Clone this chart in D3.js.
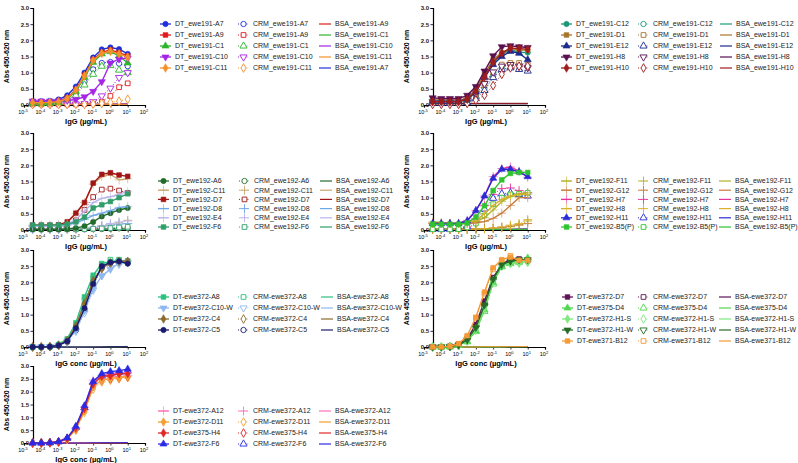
<!DOCTYPE html>
<html>
<head>
<meta charset="utf-8">
<script src="https://cdn.jsdelivr.net/npm/d3@7"></script>
<style>
  body { margin: 0; background: #fff; }
  svg { display: block; font-family: "Liberation Sans", Arial, sans-serif; }
</style>
</head>
<body>
<div id="vis"></div>
<script>
// half-log dilution series, ug/mL
var conc = [3.16e-5, 1e-4, 3.16e-4, 1e-3, 3.16e-3, 0.01, 0.0316, 0.1, 0.316, 1, 3.16, 10];
var xTicks = [-5, -4, -3, -2, -1, 0, 1, 2];
var yTicks = [0, 0.5, 1, 1.5, 2, 2.5, 3];

// ---- panel 1 : ewe191 ----
var p1Clones = ["ewe191-A7", "ewe191-A9", "ewe191-C1", "ewe191-C10", "ewe191-C11"];
var p1BsaOrder = ["ewe191-A9", "ewe191-C1", "ewe191-C10", "ewe191-C11", "ewe191-A7"];
var p1DT = [
  [0.12,0.12,0.13,0.17,0.30,0.57,1.00,1.47,1.72,1.78,1.73,1.58],
  [0.08,0.08,0.09,0.11,0.22,0.48,0.92,1.40,1.63,1.70,1.62,1.52],
  [0.05,0.05,0.06,0.08,0.18,0.42,0.85,1.32,1.58,1.65,1.52,1.30],
  [0.12,0.12,0.12,0.13,0.14,0.17,0.25,0.42,0.72,1.30,1.42,1.45],
  [0.07,0.07,0.08,0.10,0.20,0.46,0.90,1.38,1.60,1.66,1.58,1.48]
];
var p1CRM = [
  [0.04,0.04,0.05,0.07,0.13,0.35,0.72,1.10,1.30,1.33,1.28,1.20],
  [0.02,0.02,0.02,0.02,0.02,0.02,0.03,0.05,0.10,0.28,0.55,0.67],
  [0.04,0.04,0.05,0.06,0.14,0.30,0.62,0.95,1.20,1.22,1.08,1.00],
  [0.02,0.02,0.02,0.02,0.02,0.03,0.04,0.10,0.28,0.52,0.85,1.00],
  [0.02,0.02,0.02,0.02,0.02,0.02,0.02,0.03,0.05,0.08,0.12,0.18]
];
var p1BSA = [
  [0.02,0.02,0.02,0.02,0.02,0.02,0.02,0.02,0.02,0.02,0.02,0.03],
  [0.02,0.02,0.02,0.02,0.02,0.02,0.02,0.02,0.02,0.02,0.03,0.03],
  [0.02,0.02,0.02,0.02,0.02,0.02,0.02,0.02,0.02,0.02,0.02,0.02],
  [0.02,0.02,0.02,0.02,0.02,0.02,0.02,0.02,0.02,0.03,0.03,0.03],
  [0.02,0.02,0.02,0.02,0.02,0.02,0.02,0.02,0.02,0.02,0.02,0.02]
];
var p1Colors = ["#1f30d8", "#e01b1b", "#2cb52c", "#a424e8", "#f5902a"];
var p1Shapes = ["circle", "square", "triangle", "triangleDown", "diamond"];

// ---- panel 2 : ewe191 ----
var p2Clones = ["ewe191-C12", "ewe191-D1", "ewe191-E12", "ewe191-H8", "ewe191-H10"];
var p2DT = [
  [0.10,0.10,0.10,0.10,0.15,0.42,0.88,1.30,1.56,1.72,1.63,1.62],
  [0.15,0.15,0.15,0.15,0.20,0.50,0.95,1.40,1.62,1.75,1.70,1.70],
  [0.12,0.12,0.12,0.12,0.18,0.40,0.85,1.25,1.50,1.66,1.60,1.40],
  [0.22,0.20,0.20,0.20,0.30,0.57,1.05,1.52,1.80,1.83,1.80,1.78],
  [0.10,0.10,0.10,0.10,0.18,0.42,0.86,1.32,1.60,1.76,1.75,1.72]
];
var p2CRM = [
  [0.05,0.05,0.05,0.05,0.10,0.25,0.52,0.90,1.15,1.25,1.22,1.20],
  [0.10,0.10,0.10,0.10,0.12,0.30,0.62,1.00,1.25,1.30,1.30,1.25],
  [0.05,0.05,0.05,0.05,0.08,0.20,0.45,0.85,1.10,1.15,1.10,1.05],
  [0.10,0.10,0.10,0.10,0.15,0.35,0.66,1.02,1.20,1.25,1.20,1.15],
  [0.02,0.02,0.02,0.02,0.05,0.15,0.30,0.60,0.95,1.15,1.20,1.20]
];
var p2BSA = [
  [0.04,0.04,0.04,0.04,0.04,0.04,0.04,0.04,0.04,0.04,0.04,0.04],
  [0.05,0.05,0.05,0.05,0.05,0.05,0.05,0.05,0.05,0.05,0.05,0.05],
  [0.04,0.04,0.04,0.04,0.04,0.04,0.04,0.04,0.04,0.04,0.04,0.04],
  [0.05,0.05,0.05,0.05,0.05,0.05,0.05,0.05,0.05,0.05,0.05,0.05],
  [0.04,0.04,0.04,0.04,0.04,0.04,0.04,0.04,0.04,0.04,0.04,0.04]
];
var p2Colors = ["#1a9a78", "#a8742a", "#1c2a8c", "#5a0f4f", "#a01c1c"];
var p2Shapes = ["circle", "square", "triangle", "triangleDown", "diamond"];

// ---- panel 3 : ewe192 ----
var p3Clones = ["ewe192-A6", "ewe192-C11", "ewe192-D7", "ewe192-D8", "ewe192-E4", "ewe192-F6"];
var p3DT = [
  [0.02,0.02,0.02,0.02,0.03,0.06,0.12,0.25,0.42,0.52,0.62,0.68],
  [0.15,0.15,0.15,0.16,0.22,0.50,0.85,1.42,1.65,1.72,1.55,1.58],
  [0.15,0.15,0.15,0.16,0.25,0.52,0.85,1.45,1.72,1.77,1.70,1.66],
  [0.12,0.12,0.12,0.12,0.15,0.22,0.32,0.45,0.52,0.60,0.70,0.72],
  [0.12,0.12,0.12,0.13,0.18,0.32,0.58,0.85,0.98,1.03,1.10,1.20],
  [0.15,0.15,0.15,0.15,0.18,0.25,0.40,0.68,0.78,0.88,1.00,1.12]
];
var p3CRM = [
  [0.02,0.02,0.02,0.02,0.02,0.02,0.02,0.03,0.03,0.04,0.05,0.06],
  [0.02,0.02,0.02,0.02,0.02,0.03,0.04,0.06,0.10,0.15,0.22,0.30],
  [0.05,0.05,0.05,0.06,0.12,0.30,0.62,1.02,1.25,1.28,1.22,1.15],
  [0.02,0.02,0.02,0.02,0.03,0.04,0.05,0.08,0.12,0.15,0.18,0.20],
  [0.02,0.02,0.02,0.02,0.02,0.03,0.05,0.08,0.14,0.20,0.25,0.28],
  [0.02,0.02,0.02,0.02,0.02,0.02,0.03,0.04,0.05,0.06,0.08,0.10]
];
var p3BSA = [
  [0.02,0.02,0.02,0.02,0.02,0.02,0.02,0.02,0.02,0.02,0.02,0.02],
  [0.02,0.02,0.02,0.02,0.02,0.02,0.02,0.02,0.02,0.02,0.02,0.03],
  [0.02,0.02,0.02,0.02,0.02,0.02,0.02,0.02,0.02,0.02,0.03,0.03],
  [0.02,0.02,0.02,0.02,0.02,0.02,0.02,0.02,0.02,0.02,0.02,0.02],
  [0.02,0.02,0.02,0.02,0.02,0.02,0.02,0.02,0.02,0.02,0.02,0.02],
  [0.02,0.02,0.02,0.02,0.02,0.02,0.02,0.02,0.02,0.02,0.02,0.02]
];
var p3Colors = ["#236b2a", "#c9a66b", "#a31515", "#6fa8e8", "#b9b4ec", "#2f9e6a"];
var p3Shapes = ["circle", "plus", "square", "plus", "plus", "square"];

// ---- panel 4 : ewe192 ----
var p4Clones = ["ewe192-F11", "ewe192-G12", "ewe192-H7", "ewe192-H8", "ewe192-H11", "ewe192-B5(P)"];
var p4DT = [
  [0.25,0.23,0.21,0.20,0.20,0.26,0.38,0.62,0.88,1.04,1.12,1.15],
  [0.22,0.21,0.20,0.20,0.20,0.22,0.26,0.36,0.52,0.76,1.00,1.00],
  [0.20,0.20,0.20,0.21,0.30,0.60,1.05,1.65,1.90,1.95,1.82,1.63],
  [0.20,0.20,0.20,0.20,0.22,0.30,0.50,0.76,0.95,1.05,1.10,1.10],
  [0.20,0.20,0.20,0.20,0.28,0.60,1.05,1.60,1.88,1.88,1.80,1.65],
  [0.18,0.18,0.18,0.18,0.22,0.40,0.75,1.22,1.55,1.75,1.78,1.78]
];
var p4CRM = [
  [0.02,0.02,0.02,0.02,0.02,0.03,0.04,0.05,0.07,0.10,0.15,0.28],
  [0.02,0.02,0.02,0.02,0.02,0.03,0.04,0.06,0.08,0.12,0.16,0.20],
  [0.02,0.02,0.02,0.03,0.10,0.35,0.75,1.10,1.28,1.30,1.22,1.15],
  [0.02,0.02,0.02,0.02,0.02,0.03,0.04,0.06,0.10,0.15,0.20,0.32],
  [0.02,0.02,0.02,0.03,0.10,0.30,0.65,0.98,1.12,1.15,1.10,1.05],
  [0.02,0.02,0.02,0.03,0.08,0.20,0.45,0.80,1.00,1.10,1.12,1.15]
];
var p4BSA = [
  [0.02,0.02,0.02,0.02,0.02,0.02,0.02,0.02,0.02,0.02,0.02,0.02],
  [0.02,0.02,0.02,0.02,0.02,0.02,0.02,0.02,0.02,0.02,0.02,0.02],
  [0.02,0.02,0.02,0.02,0.02,0.02,0.02,0.02,0.02,0.02,0.02,0.03],
  [0.02,0.02,0.02,0.02,0.02,0.02,0.02,0.02,0.02,0.02,0.02,0.02],
  [0.02,0.02,0.02,0.02,0.02,0.02,0.02,0.02,0.02,0.02,0.03,0.03],
  [0.02,0.02,0.02,0.02,0.02,0.02,0.02,0.02,0.02,0.02,0.02,0.02]
];
var p4Colors = ["#b5b02a", "#c87a3a", "#e8339b", "#d9b02a", "#2a2ad6", "#2fc42f"];
var p4Shapes = ["plus", "plus", "plus", "plus", "triangle", "square"];

// ---- panel 5 : ewe372 ----
var p5Clones = ["ewe372-A8", "ewe372-C10-W", "ewe372-C4", "ewe372-C5"];
var p5DT = [
  [0.00,0.00,0.01,0.08,0.25,0.75,1.55,2.22,2.58,2.65,2.68,2.65],
  [0.00,0.00,0.01,0.05,0.18,0.52,1.12,1.80,2.20,2.40,2.60,2.62],
  [0.00,0.00,0.01,0.06,0.20,0.65,1.35,2.05,2.45,2.60,2.65,2.65],
  [0.00,0.00,0.01,0.05,0.18,0.58,1.20,1.95,2.50,2.62,2.65,2.58]
];
var p5CRM = [
  [0.00,0.00,0.01,0.05,0.20,0.65,1.45,2.12,2.55,2.70,2.70,2.66],
  [0.00,0.00,0.01,0.04,0.15,0.48,1.05,1.75,2.20,2.45,2.55,2.60],
  [0.00,0.00,0.01,0.05,0.18,0.60,1.30,2.00,2.42,2.58,2.62,2.62],
  [0.00,0.00,0.01,0.04,0.16,0.52,1.15,1.90,2.45,2.60,2.62,2.60]
];
var p5BSA = [
  [0.00,0.00,0.00,0.00,0.00,0.00,0.01,0.01,0.01,0.01,0.01,0.02],
  [0.00,0.00,0.00,0.00,0.00,0.00,0.00,0.01,0.01,0.01,0.01,0.01],
  [0.00,0.00,0.00,0.00,0.00,0.00,0.00,0.00,0.01,0.01,0.01,0.01],
  [0.00,0.00,0.00,0.00,0.00,0.00,0.00,0.00,0.00,0.01,0.01,0.01]
];
var p5Colors = ["#2dbf7e", "#8fb8f0", "#8c6a2c", "#1b1b70"];
var p5Shapes = ["square", "triangleDown", "diamond", "circle"];

// ---- panel 6 : ewe372 / ewe375 / ewe371 ----
var p6Clones = ["ewe372-D7", "ewe375-D4", "ewe372-H1-S", "ewe372-H1-W", "ewe371-B12"];
var p6DT = [
  [0.00,0.00,0.02,0.08,0.25,0.70,1.42,2.15,2.55,2.72,2.70,2.70],
  [0.00,0.00,0.01,0.05,0.18,0.50,1.15,2.00,2.50,2.60,2.65,2.75],
  [0.00,0.00,0.01,0.05,0.20,0.55,1.20,2.05,2.55,2.60,2.60,2.65],
  [0.00,0.00,0.01,0.06,0.22,0.60,1.30,2.10,2.55,2.65,2.70,2.70],
  [0.00,0.00,0.02,0.10,0.35,0.92,1.70,2.45,2.70,2.78,2.68,2.68]
];
var p6CRM = [
  [0.00,0.00,0.02,0.07,0.24,0.68,1.40,2.12,2.55,2.70,2.72,2.68],
  [0.00,0.00,0.01,0.05,0.16,0.48,1.10,1.95,2.48,2.58,2.62,2.70],
  [0.00,0.00,0.01,0.05,0.18,0.52,1.15,2.00,2.50,2.58,2.60,2.62],
  [0.00,0.00,0.01,0.06,0.20,0.58,1.25,2.05,2.52,2.62,2.66,2.66],
  [0.00,0.00,0.02,0.10,0.32,0.90,1.65,2.40,2.68,2.82,2.66,2.66]
];
var p6BSA = [
  [0.00,0.00,0.00,0.00,0.00,0.00,0.00,0.01,0.01,0.01,0.01,0.01],
  [0.00,0.00,0.00,0.00,0.00,0.00,0.00,0.00,0.01,0.01,0.01,0.01],
  [0.00,0.00,0.00,0.00,0.00,0.00,0.00,0.00,0.00,0.01,0.01,0.01],
  [0.00,0.00,0.00,0.00,0.00,0.00,0.00,0.00,0.01,0.01,0.01,0.01],
  [0.00,0.00,0.00,0.00,0.00,0.00,0.01,0.01,0.01,0.01,0.01,0.02]
];
var p6Colors = ["#5e1355", "#4fd84f", "#7ee87e", "#256b25", "#f59a35"];
var p6Shapes = ["square", "triangle", "diamond", "triangleDown", "square"];

// ---- panel 7 : ewe372 / ewe375 ----
var p7Clones = ["ewe372-A12", "ewe372-D11", "ewe375-H4", "ewe372-F6"];
var p7DT = [
  [0.00,0.00,0.01,0.05,0.18,0.60,1.40,2.45,2.62,2.70,2.72,2.75],
  [0.00,0.00,0.01,0.05,0.15,0.55,1.25,2.20,2.45,2.52,2.55,2.60],
  [0.00,0.00,0.01,0.05,0.18,0.60,1.35,2.30,2.60,2.62,2.70,2.70],
  [0.00,0.00,0.01,0.05,0.20,0.65,1.45,2.40,2.70,2.78,2.82,2.88]
];
var p7CRM = [
  [0.00,0.00,0.01,0.04,0.15,0.55,1.30,2.30,2.50,2.58,2.60,2.62],
  [0.00,0.00,0.01,0.04,0.14,0.50,1.20,2.10,2.38,2.45,2.50,2.55],
  [0.00,0.00,0.01,0.04,0.16,0.55,1.28,2.20,2.45,2.50,2.55,2.58],
  [0.00,0.00,0.01,0.05,0.18,0.60,1.38,2.35,2.62,2.70,2.75,2.80]
];
var p7BSA = [
  [0.00,0.00,0.00,0.00,0.00,0.00,0.00,0.01,0.01,0.01,0.01,0.01],
  [0.00,0.00,0.00,0.00,0.00,0.00,0.00,0.00,0.01,0.01,0.01,0.01],
  [0.00,0.00,0.00,0.00,0.00,0.00,0.00,0.00,0.00,0.01,0.01,0.01],
  [0.00,0.00,0.00,0.00,0.00,0.00,0.00,0.01,0.01,0.01,0.01,0.02]
];
var p7Colors = ["#ff70b8", "#f5a030", "#e02828", "#2a2ae6"];
var p7Shapes = ["plus", "diamond", "diamond", "triangle"];


var width = 798, height = 463;

var svg = d3.select("#vis")
  .append("svg")
    .attr("width", width)
    .attr("height", height);

var symbolTypes = {
  circle: d3.symbolCircle,
  square: d3.symbolSquare,
  triangle: d3.symbolTriangle,
  triangleDown: d3.symbolTriangle,
  diamond: d3.symbolDiamond,
  plus: d3.symbolPlus || d3.symbolCross
};

function marker(sel, shape, color, open) {
  var sym = d3.symbol().type(symbolTypes[shape]).size(shape == "plus" ? 28 : 22);
  var p = sel.append("path")
    .attr("d", sym())
    .attr("stroke", color)
    .attr("stroke-width", open ? 0.9 : 0.6)
    .attr("fill", shape == "plus" ? "none" : (open ? "#fff" : color));
  if (shape == "triangleDown") p.attr("transform", "rotate(180)");
  return p;
}

function drawPanel(cfg) {
  var g = svg.append("g");

  var x = d3.scaleLog()
    .domain([1e-5, 1e2])
    .range([cfg.x0 + 24, cfg.x0 + 145]);
  var y = d3.scaleLinear()
    .domain([0, 3])
    .range([cfg.bottom, cfg.top]);
  var axisX = cfg.x0 + 33;

  // x axis
  var xAxis = d3.axisBottom(x)
    .tickValues(xTicks.map(function(e) { return Math.pow(10, e); }))
    .tickSize(2.5)
    .tickFormat("");
  var gx = g.append("g")
    .attr("transform", "translate(0," + cfg.bottom + ")")
    .call(xAxis);
  gx.select(".domain").attr("stroke-width", 1.2);
  gx.selectAll(".tick line").attr("stroke-width", 0.8);
  xTicks.forEach(function(e) {
    var t = g.append("text")
      .attr("x", x(Math.pow(10, e)) - 1)
      .attr("y", cfg.bottom + 9)
      .attr("text-anchor", "middle")
      .style("font-size", "5.5px")
      .text("10");
    t.append("tspan")
      .attr("dy", -2.5)
      .style("font-size", "4px")
      .text(e);
  });

  // y axis
  var yAxis = d3.axisLeft(y)
    .tickValues(yTicks)
    .tickSize(2.5)
    .tickFormat(d3.format(".1f"));
  var gy = g.append("g")
    .attr("transform", "translate(" + axisX + ",0)")
    .call(yAxis);
  gy.select(".domain").attr("stroke-width", 1.2);
  gy.selectAll(".tick line").attr("stroke-width", 0.8);
  gy.selectAll("text")
    .attr("x", -4)
    .style("font-size", "6px")
    .style("font-weight", "bold")
    .attr("fill", "#222");

  // titles
  g.append("text")
    .attr("transform", "translate(" + (cfg.x0 + 9) + "," + ((cfg.top + cfg.bottom) / 2) + ") rotate(-90)")
    .attr("text-anchor", "middle")
    .style("font-size", "7px")
    .style("font-weight", "bold")
    .text("Abs 450-620 nm");
  g.append("text")
    .attr("x", cfg.x0 + 86)
    .attr("y", cfg.bottom + 19)
    .attr("text-anchor", "middle")
    .style("font-size", "7.5px")
    .style("font-weight", "bold")
    .text(cfg.xTitle);

  var line = d3.line()
    .x(function(d, i) { return x(conc[i]); })
    .y(function(d) { return y(d); });

  // BSA first (underneath), then CRM, then DT
  cfg.bsa.forEach(function(vals, k) {
    g.append("path")
      .datum(vals)
      .attr("fill", "none")
      .attr("stroke", cfg.colors[k])
      .attr("stroke-width", 1)
      .attr("d", line);
  });

  cfg.crm.forEach(function(vals, k) {
    g.append("path")
      .datum(vals)
      .attr("fill", "none")
      .attr("stroke", cfg.colors[k])
      .attr("stroke-width", 1)
      .attr("stroke-dasharray", "1,1.8")
      .attr("d", line);
    vals.forEach(function(v, i) {
      var m = g.append("g").attr("transform", "translate(" + x(conc[i]) + "," + y(v) + ")");
      marker(m, cfg.shapes[k], cfg.colors[k], true);
    });
  });

  cfg.dt.forEach(function(vals, k) {
    g.append("path")
      .datum(vals)
      .attr("fill", "none")
      .attr("stroke", cfg.colors[k])
      .attr("stroke-width", 1.4)
      .attr("d", line);
    vals.forEach(function(v, i) {
      var m = g.append("g").attr("transform", "translate(" + x(conc[i]) + "," + y(v) + ")");
      marker(m, cfg.shapes[k], cfg.colors[k], false);
    });
  });

  // legend
  var lg = g.append("g").style("font-size", "7px").attr("fill", "#222");
  cfg.clones.forEach(function(name, k) {
    var ly = cfg.legTop + k * cfg.legStep;
    var c = cfg.colors[k];

    // DT
    lg.append("line")
      .attr("x1", cfg.x0 + cfg.legX[0] - 15).attr("x2", cfg.x0 + cfg.legX[0] - 4)
      .attr("y1", ly).attr("y2", ly)
      .attr("stroke", c).attr("stroke-width", 1.3);
    marker(lg.append("g").attr("transform", "translate(" + (cfg.x0 + cfg.legX[0] - 9.5) + "," + ly + ")"), cfg.shapes[k], c, false);
    lg.append("text")
      .attr("x", cfg.x0 + cfg.legX[0]).attr("y", ly).attr("dy", "0.35em")
      .text("DT" + cfg.sep + name);

    // CRM
    lg.append("line")
      .attr("x1", cfg.x0 + cfg.legX[1] - 15).attr("x2", cfg.x0 + cfg.legX[1] - 4)
      .attr("y1", ly).attr("y2", ly)
      .attr("stroke", c).attr("stroke-width", 1)
      .attr("stroke-dasharray", "1,1.8");
    marker(lg.append("g").attr("transform", "translate(" + (cfg.x0 + cfg.legX[1] - 9.5) + "," + ly + ")"), cfg.shapes[k], c, true);
    lg.append("text")
      .attr("x", cfg.x0 + cfg.legX[1]).attr("y", ly).attr("dy", "0.35em")
      .text("CRM" + cfg.sep + name);

    // BSA
    var bName = cfg.bsaOrder ? cfg.bsaOrder[k] : name;
    var bIdx = cfg.clones.indexOf(bName);
    lg.append("line")
      .attr("x1", cfg.x0 + cfg.legX[2] - 16).attr("x2", cfg.x0 + cfg.legX[2] - 4)
      .attr("y1", ly).attr("y2", ly)
      .attr("stroke", cfg.colors[bIdx]).attr("stroke-width", 1.2);
    lg.append("text")
      .attr("x", cfg.x0 + cfg.legX[2]).attr("y", ly).attr("dy", "0.35em")
      .text("BSA" + cfg.sep + bName);
  });
}

var panels = [
  {clones: p1Clones, dt: p1DT, crm: p1CRM, bsa: p1BSA, colors: p1Colors, shapes: p1Shapes, bsaOrder: p1BsaOrder,
   sep: "_", xTitle: "IgG (\u00b5g/mL)", x0: 0, top: 8, bottom: 105, legTop: 24, legStep: 11, legX: [175, 253, 335]},
  {clones: p2Clones, dt: p2DT, crm: p2CRM, bsa: p2BSA, colors: p2Colors, shapes: p2Shapes,
   sep: "_", xTitle: "IgG (\u00b5g/mL)", x0: 400, top: 8, bottom: 105, legTop: 24, legStep: 11, legX: [176, 253, 336]},
  {clones: p3Clones, dt: p3DT, crm: p3CRM, bsa: p3BSA, colors: p3Colors, shapes: p3Shapes,
   sep: "_", xTitle: "IgG (\u00b5g/mL)", x0: 0, top: 133, bottom: 230, legTop: 181, legStep: 9.2, legX: [173, 254, 336]},
  {clones: p4Clones, dt: p4DT, crm: p4CRM, bsa: p4BSA, colors: p4Colors, shapes: p4Shapes,
   sep: "_", xTitle: "IgG (\u00b5g/mL)", x0: 400, top: 133, bottom: 230, legTop: 181, legStep: 9.2, legX: [176, 253, 335]},
  {clones: p5Clones, dt: p5DT, crm: p5CRM, bsa: p5BSA, colors: p5Colors, shapes: p5Shapes,
   sep: "-", xTitle: "IgG conc (\u00b5g/mL)", x0: 0, top: 250, bottom: 347, legTop: 297, legStep: 11, legX: [173, 253, 337]},
  {clones: p6Clones, dt: p6DT, crm: p6CRM, bsa: p6BSA, colors: p6Colors, shapes: p6Shapes,
   sep: "-", xTitle: "IgG conc (\u00b5g/mL)", x0: 400, top: 250, bottom: 347, legTop: 297, legStep: 11, legX: [177, 253, 335]},
  {clones: p7Clones, dt: p7DT, crm: p7CRM, bsa: p7BSA, colors: p7Colors, shapes: p7Shapes,
   sep: "-", xTitle: "IgG conc (\u00b5g/mL)", x0: 0, top: 366, bottom: 443, legTop: 411, legStep: 11, legX: [173, 253, 335]}
];

panels.forEach(drawPanel);
</script>
</body>
</html>
